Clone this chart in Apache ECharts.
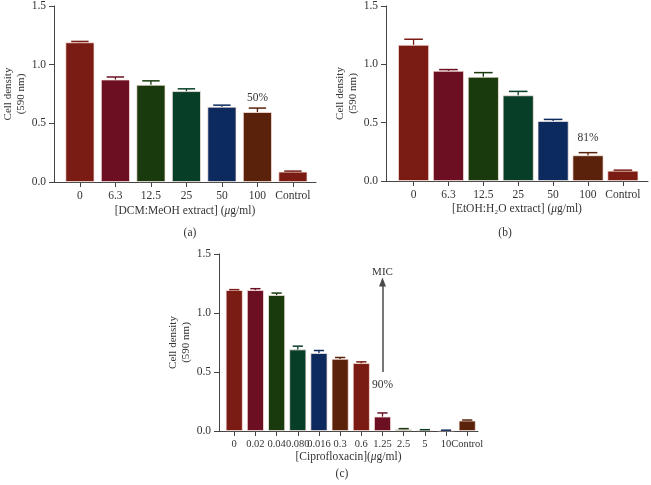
<!DOCTYPE html>
<html><head><meta charset="utf-8">
<script src="https://cdn.jsdelivr.net/npm/echarts@6/dist/echarts.min.js"></script>
<style>html,body{margin:0;padding:0;background:#fff}#c{width:651px;height:485px}</style>
</head><body><div id="c"></div>
<script>
// ---------- data ----------
const catsA = ['0','6.3','12.5','25','50','100','Control'];
const valsA = [1.19, 0.873, 0.828, 0.774, 0.641, 0.596, 0.088];
const errA  = [0.008, 0.022, 0.034, 0.020, 0.014, 0.034, 0.005];

const catsB = ['0','6.3','12.5','25','50','100','Control'];
const valsB = [1.167, 0.944, 0.893, 0.734, 0.514, 0.220, 0.088];
const errB  = [0.048, 0.011, 0.036, 0.034, 0.014, 0.023, 0.005];

const catsC = ['0','0.02','0.04','0.080','0.016','0.3','0.6','1.25','2.5','5','10','Control'];
const valsC = [1.194, 1.194, 1.152, 0.691, 0.660, 0.611, 0.575, 0.122, 0.014, 0.008, 0.005, 0.088];
const errC  = [0.004, 0.012, 0.017, 0.028, 0.022, 0.012, 0.011, 0.031, 0.006, 0.003, 0.002, 0.005];

const yTicks = [0, 0.5, 1.0, 1.5];
const palette = ['#7a1c14', '#6d0f23', '#183a0d', '#073e27', '#0c2a5e', '#5a220a'];

const annA = {cat: 5, y: 0.72, text: '50%'};
const annB = {cat: 5, y: 0.37, text: '81%'};
const annC = {cat: 7, y: 0.39, text: '90%'};
const micC = {cat: 7, from: 0.5, to: 1.262, text: 'MIC'};

// ---------- helpers ----------
const FONT = '"Liberation Serif", "DejaVu Serif", serif';
const TXT = '#333';

function xAxisFor(idx, cats, min, max, name, nameGap, fs){
  const ticks = cats.map((_, i) => i);
  return {
    type: 'value', gridIndex: idx, min: min, max: max,
    splitLine: {show: false},
    axisLine: {show: true, onZero: false, lineStyle: {color: '#444', width: 1}},
    axisTick: {show: true, customValues: ticks, length: 5, lineStyle: {color: '#444'}},
    axisLabel: {customValues: ticks, formatter: v => cats[Math.round(v)], margin: 8,
      hideOverlap: false, showMinLabel: true, showMaxLabel: true,
      color: TXT, fontFamily: FONT, fontSize: fs},
    name: name, nameLocation: 'middle', nameGap: nameGap,
    nameTextStyle: {color: TXT, fontFamily: FONT, fontSize: 11.5,
      rich: {i: {fontStyle: 'italic', fontFamily: FONT, fontSize: 11.5, color: TXT}}}
  };
}
function yAxisFor(idx){
  return {
    type: 'value', gridIndex: idx, min: 0, max: 1.5, interval: 0.5,
    splitLine: {show: false},
    axisLine: {show: true, onZero: false, lineStyle: {color: '#444', width: 1}},
    axisTick: {show: true, length: 5, lineStyle: {color: '#444'}},
    axisLabel: {formatter: v => v.toFixed(1), margin: 8, color: TXT, fontFamily: FONT, fontSize: 11.5},
    name: 'Cell density\n(590 nm)', nameLocation: 'middle', nameGap: 25, nameRotate: 90,
    nameTextStyle: {color: TXT, fontFamily: FONT, fontSize: 11, lineHeight: 13}
  };
}
function barSeries(idx, vals, width, ann, mic){
  const s = {
    type: 'bar', xAxisIndex: idx, yAxisIndex: idx, barWidth: width,
    data: vals.map((v, i) => ({value: [i, v], itemStyle: {color: palette[i % palette.length]}})),
    itemStyle: {borderColor: 'rgba(255,235,230,0.9)', borderWidth: 0.8},
    z: 2
  };
  if (ann) {
    s.markPoint = {
      symbol: 'circle', symbolSize: 0, silent: true,
      label: {show: true, position: 'inside', color: TXT, fontFamily: FONT, fontSize: 11.5, formatter: p => p.name},
      data: [{name: ann.text, coord: [ann.cat, ann.y]}]
    };
  }
  if (mic) {
    s.markLine = {
      silent: true, symbol: ['none', 'triangle'], symbolSize: [7, 9],
      lineStyle: {color: '#4a4a4a', width: 1.5, type: 'solid'},
      label: {show: true, position: 'end', distance: 4, formatter: mic.text, color: TXT, fontFamily: FONT, fontSize: 11},
      data: [[{coord: [mic.cat, mic.from]}, {coord: [mic.cat, mic.to]}]]
    };
  }
  return s;
}
function errSeries(idx, vals, errs, width){
  return {
    type: 'custom', xAxisIndex: idx, yAxisIndex: idx, z: 3, silent: true,
    data: vals.map((v, i) => [i, v, v + errs[i]]),
    renderItem: function(params, api){
      const i = api.value(0);
      const p0 = api.coord([i, api.value(1)]);
      const p1 = api.coord([i, api.value(2)]);
      const hw = width * 0.3;
      const col = palette[i % palette.length];
      return {type: 'group', children: [
        {type: 'line', shape: {x1: p0[0], y1: p0[1], x2: p1[0], y2: p1[1]}, style: {stroke: col, lineWidth: 1.3}},
        {type: 'line', shape: {x1: p1[0] - hw, y1: p1[1], x2: p1[0] + hw, y2: p1[1]}, style: {stroke: col, lineWidth: 1.5}}
      ]};
    }
  };
}

const chart = echarts.init(document.getElementById('c'), null, {renderer: 'canvas'});
chart.setOption({
  animation: false,
  backgroundColor: '#fff',
  title: [
    {text: '(a)', left: 185, top: 222, textAlign: 'center', textStyle: {fontFamily: FONT, fontSize: 11.5, fontWeight: 'normal', color: TXT}},
    {text: '(b)', left: 500, top: 222, textAlign: 'center', textStyle: {fontFamily: FONT, fontSize: 11.5, fontWeight: 'normal', color: TXT}},
    {text: '(c)', left: 337, top: 463, textAlign: 'center', textStyle: {fontFamily: FONT, fontSize: 11.5, fontWeight: 'normal', color: TXT}}
  ],
  grid: [
    {left: 54, right: 335, top: 5, bottom: 303},
    {left: 386, right: 3, top: 4, bottom: 304},
    {left: 219, right: 173, top: 254, bottom: 54}
  ],
  xAxis: [
    xAxisFor(0, catsA, -0.73, 6.65, '[DCM:MeOH extract] ({i|μ}g/ml)', 23, 11.5),
    xAxisFor(1, catsB, -0.79, 6.72, '[EtOH:H₂O extract] ({i|μ}g/ml)', 22, 11.5),
    xAxisFor(2, catsC, -0.72, 11.51, '[Ciprofloxacin]({i|μ}g/ml)', 20, 10.5)
  ],
  yAxis: [yAxisFor(0), yAxisFor(1), yAxisFor(2)],
  series: [
    barSeries(0, valsA, 29, annA, null),
    errSeries(0, valsA, errA, 29),
    barSeries(1, valsB, 31, annB, null),
    errSeries(1, valsB, errB, 31),
    barSeries(2, valsC, 17, annC, micC),
    errSeries(2, valsC, errC, 17)
  ]
});
</script></body></html>
